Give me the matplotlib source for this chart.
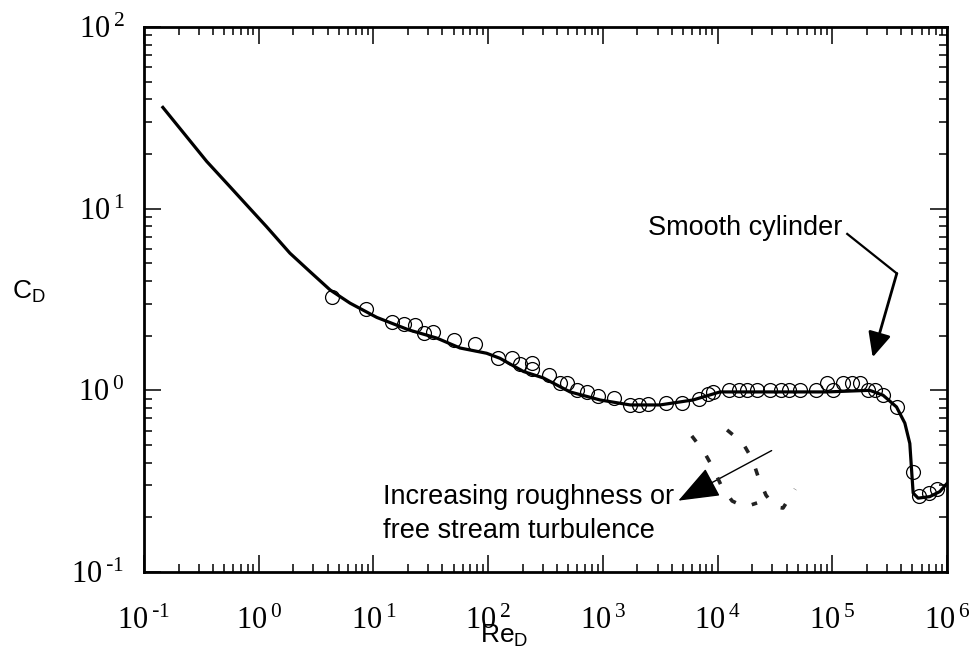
import matplotlib
matplotlib.use("Agg")
import matplotlib.pyplot as plt
from matplotlib.ticker import FixedLocator, FixedFormatter, LogLocator, NullFormatter
from matplotlib.patches import FancyArrowPatch

# ---- data ----
re_curve = [0.146, 0.352, 0.562, 0.84, 1.17, 1.87, 2.8, 4.19, 6.25, 10.7, 20.4,
            35.6, 56.9, 97, 127, 203, 303, 518, 946, 1730, 3150, 6110, 10500, 23500,
            89600, 212000, 277000, 363000, 429000, 474000, 491000, 507000, 560000,
            708000, 865000, 990000]
cd_curve = [36.1, 18.2, 13.2, 10.0, 7.96, 5.69, 4.50, 3.57, 3.02, 2.52, 2.15,
            1.94, 1.71, 1.60, 1.50, 1.27, 1.17, 0.98, 0.885, 0.831, 0.831, 0.885, 0.98, 0.98,
            0.98, 1.0, 0.94, 0.81, 0.66, 0.51, 0.365, 0.272, 0.255, 0.26, 0.277, 0.305]

re_pts = [4.33, 8.57, 14.4, 18.5, 23.1, 27.6, 32.9, 50.4, 76.9, 123, 161, 190, 239, 241,
          342, 427, 484, 595, 728, 907, 1250, 1710, 2065, 2490, 3550, 4870, 6930, 8300,
          9070, 12650, 15500, 18200, 21900, 28600, 35500, 42300, 52300, 72100, 89500,
          101500, 125000, 148000, 175000, 205000, 236000, 279000, 369000, 508000,
          574000, 702000, 824000]
cd_pts = [3.27, 2.79, 2.37, 2.31, 2.29, 2.08, 2.10, 1.89, 1.80, 1.50, 1.50, 1.40, 1.41,
          1.31, 1.21, 1.10, 1.10, 1.00, 0.98, 0.934, 0.908, 0.83, 0.83, 0.84, 0.85, 0.855,
          0.893, 0.951, 0.983, 1.01, 1.0, 1.0, 1.0, 1.0, 1.0, 1.0, 1.0, 1.0, 1.10,
          1.0, 1.10, 1.10, 1.10, 1.0, 1.0, 0.948, 0.807, 0.357,
          0.262, 0.271, 0.285]

re_rough1 = [5960, 7630, 9130, 10900, 13400, 17300, 22100]
cd_rough1 = [0.561, 0.458, 0.374, 0.294, 0.246, 0.228, 0.24]
re_rough2 = [12100, 16600, 20200, 22600, 26400, 31700, 37200, 47400]
cd_rough2 = [0.605, 0.513, 0.414, 0.334, 0.265, 0.228, 0.225, 0.286]

decades = [-1, 0, 1, 2, 3, 4, 5, 6]
ydecades = [-1, 0, 1, 2]


def dec_label(d):
    if d >= 0:
        return r'$\mathregular{10^{\,%d}}$' % d
    return r'$\mathregular{10^{\,\text{-}%d}}$' % (-d)


xtick_labels = [dec_label(d) for d in decades]
ytick_labels = [dec_label(d) for d in ydecades]

fig = plt.figure(figsize=(9.73, 6.46), dpi=100)
ax = fig.add_axes([144 / 973, (646 - 572) / 646, (947 - 144) / 973, (572 - 27) / 646])
ax.set_xscale('log')
ax.set_yscale('log')
ax.set_xlim(0.1, 1e6)
ax.set_ylim(0.1, 100)

ax.plot(re_curve, cd_curve, color='black', lw=2.3, solid_joinstyle='round', zorder=3)
ax.plot(re_pts, cd_pts, linestyle='none', marker='o', ms=10, mfc='none', mec='black',
        mew=0.9, zorder=4)
ax.plot(re_rough1, cd_rough1, color='#222222', lw=2.6, linestyle=(0, (2.0, 4.8)), zorder=3)
ax.plot(re_rough2, cd_rough2, color='#222222', lw=2.6, linestyle=(0, (2.0, 4.8)), zorder=3)

# ticks
ax.xaxis.set_major_locator(FixedLocator([10.0 ** d for d in decades]))
ax.xaxis.set_major_formatter(FixedFormatter(xtick_labels))
ax.yaxis.set_major_locator(FixedLocator([10.0 ** d for d in ydecades]))
ax.yaxis.set_major_formatter(FixedFormatter(ytick_labels))
ax.xaxis.set_minor_locator(LogLocator(base=10, subs=range(2, 10), numticks=20))
ax.yaxis.set_minor_locator(LogLocator(base=10, subs=range(2, 10), numticks=20))
ax.xaxis.set_minor_formatter(NullFormatter())
ax.yaxis.set_minor_formatter(NullFormatter())
ax.tick_params(which='both', direction='in', top=True, right=True, width=1.1, color='black',
               labelfontfamily='Liberation Serif')
ax.tick_params(which='major', length=12)
ax.tick_params(which='minor', length=6)
ax.tick_params(axis='x', which='major', pad=25, labelsize=22)
ax.tick_params(axis='y', which='major', pad=14, labelsize=22)
for s in ax.spines.values():
    s.set_linewidth(2.0)

# axis labels
fig.text(12 / 973, 1 - 292 / 646, r'C$_{\mathregular{D}}$', fontsize=19,
         family='Liberation Sans', ha='left', va='center')
fig.text(480 / 973, 1 - 636 / 646, r'Re$_{\mathregular{D}}$', fontsize=19,
         family='Liberation Sans', ha='left', va='center')

# Smooth cylinder annotation
ax.text(2480, 7.8, 'Smooth cylinder', fontsize=19.5, family='Liberation Sans',
        ha='left', va='center')
ax.plot([1.35e5, 3.65e5], [7.26, 4.40], color='black', lw=1.6)
ax.add_patch(FancyArrowPatch((3.65e5, 4.40), (2.25e5, 1.52),
                             arrowstyle='-|>,head_length=0.75,head_width=0.35',
                             mutation_scale=20, color='black', lw=2.0,
                             shrinkA=0, shrinkB=0))

# roughness annotation
ax.add_patch(FancyArrowPatch((2.96e4, 0.466), (4.55e3, 0.247),
                             arrowstyle='-|>,head_length=1.3,head_width=0.5',
                             mutation_scale=20, color='black', lw=1.0,
                             shrinkA=0, shrinkB=0))
ax.text(12.1, 0.208, 'Increasing roughness or\nfree stream turbulence', fontsize=19.5,
        family='Liberation Sans', ha='left', va='center', linespacing=1.4)

fig.savefig('out.png', dpi=100)
